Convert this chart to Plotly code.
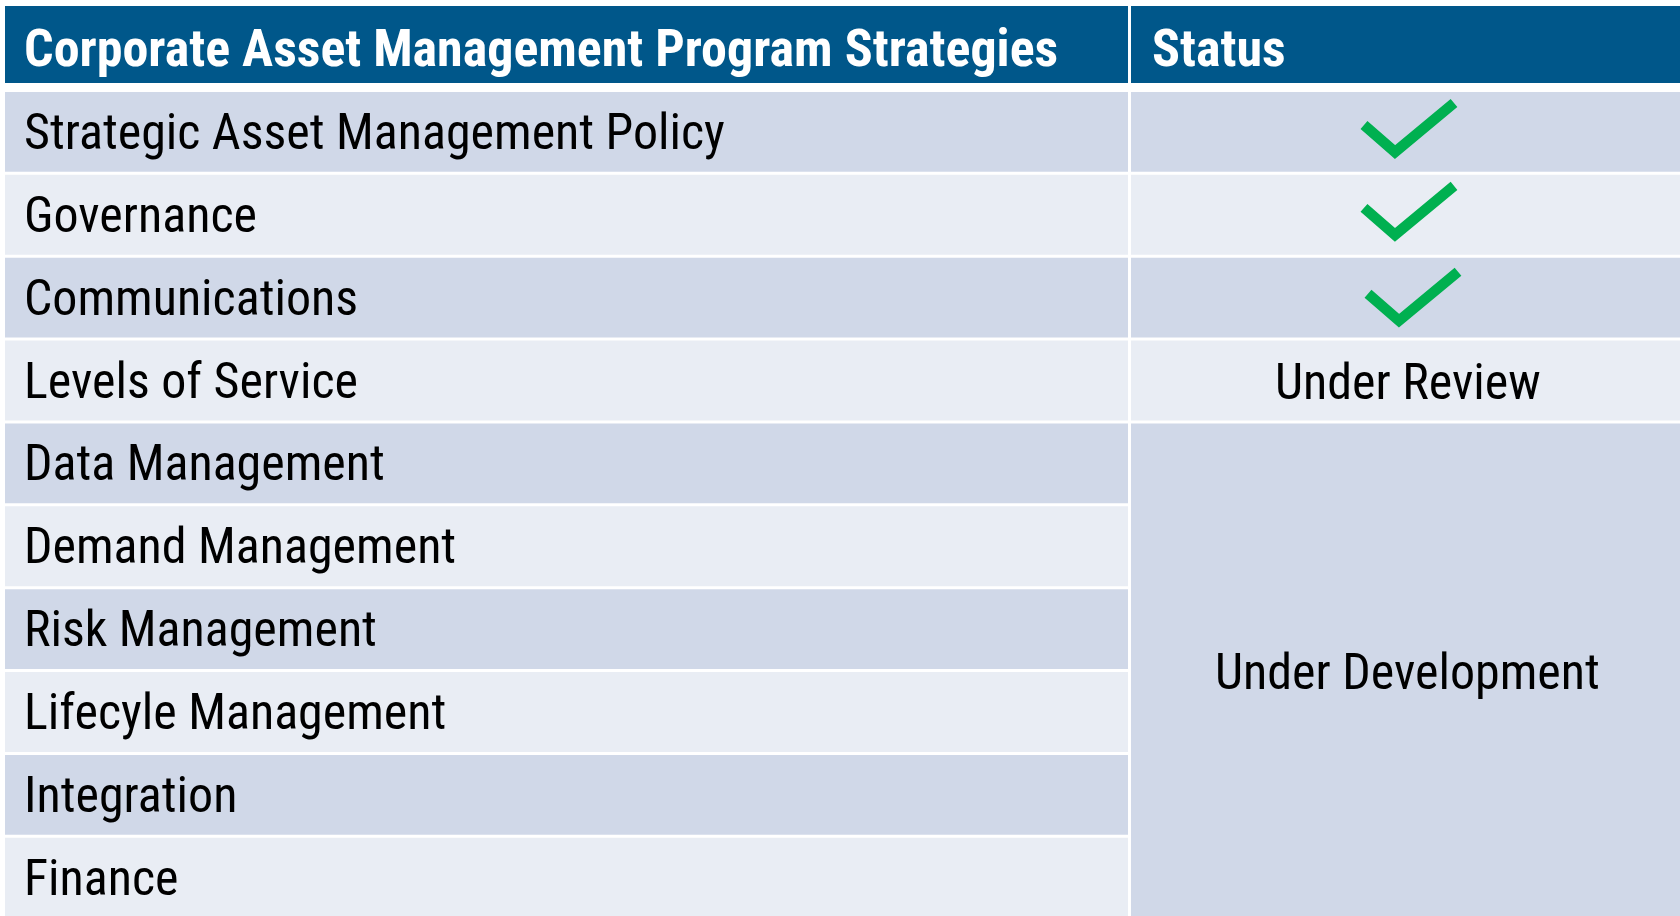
import plotly.graph_objects as go

# ---- data ----
header = ["Corporate Asset Management Program Strategies", "Status"]
strategies = [
    "Strategic Asset Management Policy",
    "Governance",
    "Communications",
    "Levels of Service",
    "Data Management",
    "Demand Management",
    "Risk Management",
    "Lifecyle Management",
    "Integration",
    "Finance",
]
status = ["complete", "complete", "complete", "Under Review",
          "Under Development", "Under Development", "Under Development",
          "Under Development", "Under Development", "Under Development"]

# ---- layout constants ----
W, H = 1680, 916
X0, XDIV, XDIV2, XR = 5, 1128, 1131, W
HEAD_T, HEAD_B = 6, 83
ROW_T0, PITCH, GAP = 92, 82.86, 3
PAD = 17
FONT = "Roboto Condensed, Liberation Sans Narrow, Arial Narrow, DejaVu Sans Condensed, sans-serif"
FS = 50
FS_HEAD = 52
HEAD_DY = 4
C_HEAD = "#00578A"
C_DARK = "#D0D8E8"
C_LIGHT = "#E9EDF4"
C_CHECK = "#00B050"
CHECK_NUDGE = {2: (4, 3)}


def row_top(i):
    return ROW_T0 + PITCH * i


def row_bot(i, clip=True):
    b = row_top(i) + PITCH - GAP
    return min(b, H) if clip else b


shapes, annos, traces = [], [], []


def rect(x0, y0, x1, y1, color):
    shapes.append(dict(type="rect", xref="x", yref="y", x0=x0, x1=x1, y0=y0, y1=y1,
                       fillcolor=color, line=dict(width=0), layer="below"))


def label(x, y, text, color="black", bold=False, anchor="left", size=FS):
    annos.append(dict(x=x, y=y, xref="x", yref="y", text=f"<b>{text}</b>" if bold else text,
                      showarrow=False, xanchor=anchor, yanchor="middle",
                      font=dict(family=FONT, size=size, color=color)))


# header
rect(X0, HEAD_T, XDIV, HEAD_B, C_HEAD)
rect(XDIV2, HEAD_T, XR, HEAD_B, C_HEAD)
hy = (HEAD_T + HEAD_B) / 2 + HEAD_DY
label(X0 + PAD, hy, header[0], "white", True, size=FS_HEAD)
label(XDIV2 + PAD + 2, hy, header[1], "white", True, size=FS_HEAD)

# left column
for i, s in enumerate(strategies):
    col = C_DARK if i % 2 == 0 else C_LIGHT
    rect(X0, row_top(i), XDIV, row_bot(i), col)
    label(X0 + PAD, (row_top(i) + row_bot(i, clip=False)) / 2, s)

# right column with merged cells
cx = (XDIV2 + XR) / 2
i = 0
while i < len(status):
    s = status[i]
    j = i
    if s != "complete":
        while j + 1 < len(status) and status[j + 1] == s:
            j += 1
    col = C_DARK if i % 2 == 0 else C_LIGHT
    y0, y1 = row_top(i), row_bot(j)
    rect(XDIV2, y0, XR, y1, col)
    if s == "complete":
        nx, ny = CHECK_NUDGE.get(i, (0, 0))
        traces.append(go.Scatter(
            x=[cx - 41.5 + nx, cx - 10.5 + nx, cx + 48.5 + nx],
            y=[y0 + 33 + ny, y0 + 60 + ny, y0 + 11 + ny],
            mode="lines", line=dict(color=C_CHECK, width=10.5),
            hoverinfo="skip", showlegend=False))
    else:
        label(cx + 2, (y0 + row_bot(j, clip=False)) / 2 + 1, s, anchor="center")
    i = j + 1

fig = go.Figure(traces)
fig.update_layout(
    width=W, height=H, margin=dict(l=0, r=0, t=0, b=0),
    paper_bgcolor="white", plot_bgcolor="white",
    xaxis=dict(range=[0, W], visible=False, fixedrange=True),
    yaxis=dict(range=[H, 0], visible=False, fixedrange=True),
    shapes=shapes, annotations=annos, showlegend=False,
)
fig.write_html("out.html", config={"displayModeBar": False},
               post_script="document.body.style.margin='0';")
